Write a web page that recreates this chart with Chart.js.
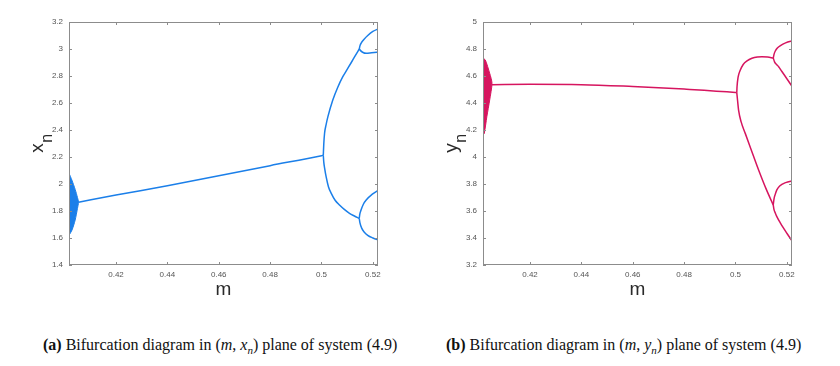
<!DOCTYPE html>
<html>
<head>
<meta charset="utf-8">
<title>bifurcation</title>
<script src="https://cdn.jsdelivr.net/npm/chart.js@4.4.0/dist/chart.umd.min.js"></script>
<style>
  body { margin: 0; background: #fff; width: 840px; height: 366px; position: relative; overflow: hidden; }
  .plot { position: absolute; top: 0; width: 420px; height: 300px; }
  .caption { position: absolute; top: 336px; font-family: 'Liberation Serif', 'Times New Roman', serif; font-size: 16px; white-space: nowrap; color: #111; }
  .caption sub { font-size: 11px; }
</style>
</head>
<body>
<div class="plot" style="left:0"><canvas id="chartX"></canvas></div>
<div class="plot" style="left:420px"><canvas id="chartY"></canvas></div>
<div class="caption" style="left:43px"><b>(a)</b> Bifurcation diagram in (<i>m</i>, <i>x<sub>n</sub></i>) plane of system (4.9)</div>
<div class="caption" style="left:446px"><b>(b)</b> Bifurcation diagram in (<i>m</i>, <i>y<sub>n</sub></i>) plane of system (4.9)</div>
<script>
// axis ticks
const mTicks = [0.42, 0.44, 0.46, 0.48, 0.5, 0.52];
const xnTicks = [1.4, 1.6, 1.8, 2, 2.2, 2.4, 2.6, 2.8, 3, 3.2];
const ynTicks = [3.2, 3.4, 3.6, 3.8, 4, 4.2, 4.4, 4.6, 4.8, 5];

// (a) x_n branches
const blobA_m = [0.4017, 0.4028, 0.4041, 0.4050, 0.4054, 0.4050, 0.4041, 0.4029, 0.4017];
const blobA_v = [2.08, 2.03, 1.96, 1.90, 1.865, 1.82, 1.733, 1.66, 1.62];
const mainA_m = [0.4054, 0.42, 0.44, 0.46, 0.48, 0.5, 0.5007];
const mainA_v = [1.865, 1.918, 1.987, 2.061, 2.136, 2.21, 2.213];
const hiA_m = [0.5007, 0.5009, 0.5012, 0.5018, 0.5025, 0.5044, 0.5063, 0.5083, 0.5100, 0.5116, 0.5131, 0.5147];
const hiA_v = [2.213, 2.30, 2.376, 2.44, 2.499, 2.622, 2.715, 2.795, 2.849, 2.90, 2.949, 3.0];
const loA_m = [0.5007, 0.5009, 0.5012, 0.5018, 0.5027, 0.5038, 0.5053, 0.5070, 0.5090, 0.5109, 0.5128, 0.5147];
const loA_v = [2.213, 2.16, 2.12, 2.054, 1.98, 1.931, 1.88, 1.844, 1.81, 1.783, 1.763, 1.745];
const hiHiA_m = [0.5147, 0.5150, 0.5155, 0.5165, 0.5180, 0.5200, 0.5225];
const hiHiA_v = [3.0, 3.025, 3.045, 3.07, 3.10, 3.13, 3.152];
const hiLoA_m = [0.5147, 0.5152, 0.5160, 0.5174, 0.5195, 0.5225];
const hiLoA_v = [3.0, 2.988, 2.976, 2.968, 2.972, 2.978];
const loHiA_m = [0.5147, 0.5149, 0.5154, 0.5163, 0.5174, 0.5198, 0.5225];
const loHiA_v = [1.745, 1.775, 1.807, 1.85, 1.881, 1.925, 1.958];
const loLoA_m = [0.5147, 0.5150, 0.5156, 0.5166, 0.5180, 0.5200, 0.5225];
const loLoA_v = [1.745, 1.71, 1.675, 1.645, 1.62, 1.60, 1.582];

// (b) y_n branches
const blobB_m = [0.4017, 0.4026, 0.4043, 0.4052, 0.4043, 0.4032, 0.4022, 0.4017];
const blobB_v = [4.731, 4.719, 4.62, 4.546, 4.422, 4.299, 4.175, 4.163];
const mainB_m = [0.4052, 0.42, 0.44, 0.46, 0.48, 0.5, 0.5005];
const mainB_v = [4.536, 4.538, 4.536, 4.522, 4.503, 4.478, 4.477];
const hiB_m = [0.5005, 0.5006, 0.5010, 0.5018, 0.5030, 0.5045, 0.5064, 0.5085, 0.5103, 0.5125, 0.5147];
const hiB_v = [4.477, 4.52, 4.59, 4.64, 4.685, 4.712, 4.731, 4.741, 4.743, 4.741, 4.733];
const loB_m = [0.5005, 0.5008, 0.5012, 0.5022, 0.5038, 0.5060, 0.5090, 0.5120, 0.5147];
const loB_v = [4.477, 4.42, 4.348, 4.26, 4.175, 4.06, 3.904, 3.76, 3.645];
const hiHiB_m = [0.5147, 0.5150, 0.5155, 0.5163, 0.5175, 0.5195, 0.5225];
const hiHiB_v = [4.733, 4.76, 4.785, 4.807, 4.825, 4.845, 4.862];
const hiLoB_m = [0.5147, 0.5152, 0.5160, 0.5168, 0.5180, 0.5200, 0.5225];
const hiLoB_v = [4.733, 4.705, 4.685, 4.669, 4.635, 4.58, 4.51];
const loHiB_m = [0.5147, 0.5150, 0.5155, 0.5161, 0.5172, 0.5195, 0.5225];
const loHiB_v = [3.645, 3.69, 3.725, 3.756, 3.785, 3.81, 3.824];
const loLoB_m = [0.5147, 0.5150, 0.5155, 0.5161, 0.5175, 0.5200, 0.5225];
const loLoB_v = [3.645, 3.61, 3.585, 3.558, 3.51, 3.435, 3.365];

function pts(ms, vs) {
  return ms.map((m, i) => ({ x: m, y: vs[i] }));
}

// MATLAB-like box with inner ticks, plus the axis names
const boxPlugin = {
  id: 'box',
  afterDraw(chart, args, opts) {
    const ctx = chart.ctx;
    const a = chart.chartArea;
    const sx = chart.scales.x, sy = chart.scales.y;
    ctx.save();
    ctx.strokeStyle = '#8c8c8c';
    ctx.lineWidth = 1;
    ctx.strokeRect(Math.round(a.left) + 0.5, Math.round(a.top) + 0.5,
                   Math.round(a.right - a.left) - 1, Math.round(a.bottom - a.top) - 1);
    ctx.beginPath();
    sx.ticks.forEach(t => {
      const p = Math.round(sx.getPixelForValue(t.value)) + 0.5;
      ctx.moveTo(p, a.bottom); ctx.lineTo(p, a.bottom - 3);
      ctx.moveTo(p, a.top); ctx.lineTo(p, a.top + 3);
    });
    sy.ticks.forEach(t => {
      const p = Math.round(sy.getPixelForValue(t.value)) + 0.5;
      ctx.moveTo(a.left, p); ctx.lineTo(a.left + 3, p);
      ctx.moveTo(a.right, p); ctx.lineTo(a.right - 3, p);
    });
    ctx.stroke();

    ctx.fillStyle = '#2a2a2a';
    ctx.textAlign = 'center';
    ctx.textBaseline = 'alphabetic';
    ctx.font = '19px "Liberation Sans", Arial, sans-serif';
    ctx.fillText('m', (a.left + a.right) / 2, 295);

    // rotated y name with subscript
    const cy = (a.top + a.bottom) / 2;
    ctx.translate(a.left - 26.5, cy);
    ctx.rotate(-Math.PI / 2);
    ctx.textAlign = 'left';
    ctx.font = '19px "Liberation Sans", Arial, sans-serif';
    const w1 = ctx.measureText(opts.name).width;
    ctx.font = '16px "Liberation Sans", Arial, sans-serif';
    const w2 = ctx.measureText('n').width;
    const x0 = -(w1 + w2) / 2;
    ctx.font = '19px "Liberation Sans", Arial, sans-serif';
    ctx.fillText(opts.name, x0, 0);
    ctx.font = '16px "Liberation Sans", Arial, sans-serif';
    ctx.fillText('n', x0 + w1 + 0.5, 9);
    ctx.restore();
  }
};

function line(data, color) {
  return { data: data, borderColor: color, borderWidth: 1.5, pointRadius: 0,
           showLine: true, fill: false, cubicInterpolationMode: 'monotone' };
}

function makeChart(id, color, blob, branches, yMin, yMax, yTicks, yWidth, rightPad, name) {
  const datasets = [{
    data: blob, borderColor: color, backgroundColor: color, borderWidth: 1,
    pointRadius: 0, showLine: true, fill: 'shape', tension: 0.25
  }];
  branches.forEach(b => datasets.push(line(b, color)));
  return new Chart(document.getElementById(id), {
    type: 'scatter',
    data: { datasets: datasets },
    plugins: [boxPlugin],
    options: {
      responsive: true,
      maintainAspectRatio: false,
      animation: false,
      layout: { padding: { top: 22, right: rightPad, bottom: 0, left: 0 } },
      plugins: { legend: { display: false }, tooltip: { enabled: false }, box: { name: name } },
      scales: {
        x: {
          type: 'linear', min: 0.4017, max: 0.522,
          afterBuildTicks: s => { s.ticks = mTicks.map(v => ({ value: v })); },
          afterFit: s => { s.height = 35; },
          grid: { display: false, drawTicks: false },
          border: { display: false },
          ticks: { padding: 5, color: '#555', font: { size: 8, family: '"Liberation Sans", Arial' },
                   callback: v => String(v), maxRotation: 0 }
        },
        y: {
          type: 'linear', min: yMin, max: yMax,
          afterBuildTicks: s => { s.ticks = yTicks.map(v => ({ value: v })); },
          afterFit: s => { s.width = yWidth; },
          grid: { display: false, drawTicks: false },
          border: { display: false },
          ticks: { padding: 6, color: '#555', font: { size: 8, family: '"Liberation Sans", Arial' },
                   callback: v => String(v) }
        }
      }
    }
  });
}

makeChart('chartX', '#1b7fe9', pts(blobA_m, blobA_v),
  [pts(mainA_m, mainA_v), pts(hiA_m, hiA_v), pts(loA_m, loA_v), pts(hiHiA_m, hiHiA_v),
   pts(hiLoA_m, hiLoA_v), pts(loHiA_m, loHiA_v), pts(loLoA_m, loLoA_v)],
  1.4, 3.2, xnTicks, 69, 42, 'x');

makeChart('chartY', '#d6155f', pts(blobB_m, blobB_v),
  [pts(mainB_m, mainB_v), pts(hiB_m, hiB_v), pts(loB_m, loB_v), pts(hiHiB_m, hiHiB_v),
   pts(hiLoB_m, hiLoB_v), pts(loHiB_m, loHiB_v), pts(loLoB_m, loLoB_v)],
  3.2, 5, ynTicks, 63, 48, 'y');
</script>
</body>
</html>
